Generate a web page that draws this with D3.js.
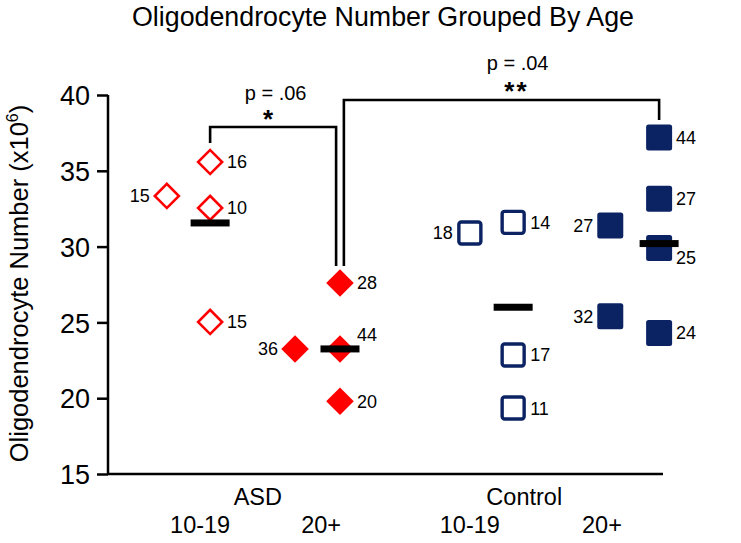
<!DOCTYPE html>
<html>
<head>
<meta charset="utf-8">
<script src="https://cdn.jsdelivr.net/npm/d3@7/dist/d3.min.js"></script>
<style>
  html, body { margin: 0; padding: 0; background: #fff; }
  svg { display: block; font-family: "Liberation Sans", Arial, Helvetica, sans-serif; }
</style>
</head>
<body>
<svg id="chart" width="741" height="543"></svg>
<script>
// ---------- data ----------
const title = "Oligodendrocyte Number Grouped By Age";
const yTicks = [15, 20, 25, 30, 35, 40];
const groupLabels = ["ASD", "Control"];
const groupCenters = [2.7, 7.5];
const ageLabels = ["10-19", "20+", "10-19", "20+"];
const ageLabelPos = [1.66, 3.84, 6.52, 8.9];

// each point: horizontal position (category units), value, subject age label
const asdYoungX = [1.84, 1.06, 1.84, 1.84];
const asdYoungV = [35.58, 33.34, 32.55, 25.03];
const asdYoungN = ["16", "15", "10", "15"];
const asdYoungSide = ["r", "l", "r", "r"];

const asdOldX = [4.18, 3.37, 4.18, 4.18];
const asdOldV = [27.6, 23.25, 23.25, 19.8];
const asdOldN = ["28", "36", "44", "20"];
const asdOldSide = ["r", "l", "ru", "r"];

const ctlYoungX = [6.52, 7.30, 7.30, 7.30];
const ctlYoungV = [30.9, 31.6, 22.85, 19.35];
const ctlYoungN = ["18", "14", "17", "11"];
const ctlYoungSide = ["l", "r", "r", "r"];

const ctlOldX = [9.05, 9.05, 9.93, 9.93, 9.93, 9.93];
const ctlOldV = [31.4, 25.4, 37.2, 33.15, 29.9, 24.3];
const ctlOldN = ["27", "32", "44", "27", "25", "24"];
const ctlOldSide = ["l", "l", "r", "r", "rd", "r"];

const meanX = [1.84, 4.18, 7.30, 9.93];
const meanV = [31.56, 23.25, 26.0, 30.2];

// significance brackets
const bracketX1 = [1.84, 4.25];
const bracketX2 = [4.11, 9.93];
const bracketTop = [37.89, 39.67];
const bracketLeg1 = [36.83, 28.72];
const bracketLeg2 = [28.72, 38.35];
const bracketP = ["p = .06", "p = .04"];
const bracketStars = ["*", "**"];

// ---------- layout ----------
const svg = d3.select("#chart");
const x = d3.scaleLinear().domain([0, 10]).range([108, 663]);
const y = d3.scaleLinear().domain([15, 40]).range([474, 95]);

const red = "#ff0000";
const navy = "#0b2363";

// title
svg.append("text")
  .attr("x", 383).attr("y", 26)
  .attr("text-anchor", "middle")
  .attr("font-size", 26.8)
  .text(title);

// y axis
const yAxis = svg.append("g")
  .attr("transform", `translate(${x(0)},0)`)
  .call(d3.axisLeft(y).tickValues(yTicks).tickSize(11).tickPadding(7).tickFormat(d3.format("d")));
yAxis.select(".domain").attr("stroke", "#000").attr("stroke-width", 2.5).attr("d", `M0,${y(15)}V${y(40)}`);
yAxis.selectAll(".tick line").attr("stroke", "#000").attr("stroke-width", 2.5);
yAxis.selectAll(".tick text").attr("font-size", 27).attr("font-family", "Liberation Sans, Arial, sans-serif").attr("fill", "#000").attr("dy", "0.36em");

// x axis line
svg.append("line")
  .attr("x1", x(0)).attr("x2", x(10))
  .attr("y1", y(15)).attr("y2", y(15))
  .attr("stroke", "#000").attr("stroke-width", 2.5);

// y label
const yl = svg.append("text")
  .attr("transform", `translate(28,${(y(15) + y(40)) / 2 - 1}) rotate(-90)`)
  .attr("text-anchor", "middle")
  .attr("font-size", 25.5);
yl.append("tspan").text("Oligodendrocyte Number (x10");
yl.append("tspan").attr("font-size", 16).attr("dy", -10).text("6");
yl.append("tspan").attr("dy", 10).text(")");

// x labels
svg.selectAll(".grp").data(groupLabels).enter().append("text")
  .attr("x", (d, i) => x(groupCenters[i])).attr("y", 505)
  .attr("text-anchor", "middle").attr("font-size", 23.5).text(d => d);
svg.selectAll(".age").data(ageLabels).enter().append("text")
  .attr("x", (d, i) => x(ageLabelPos[i])).attr("y", 533)
  .attr("text-anchor", "middle").attr("font-size", 23.5).text(d => d);

// brackets
bracketP.forEach((p, i) => {
  const path = d3.path();
  path.moveTo(x(bracketX1[i]), y(bracketLeg1[i]));
  path.lineTo(x(bracketX1[i]), y(bracketTop[i]));
  path.lineTo(x(bracketX2[i]), y(bracketTop[i]));
  path.lineTo(x(bracketX2[i]), y(bracketLeg2[i]));
  svg.append("path").attr("d", path.toString())
    .attr("fill", "none").attr("stroke", "#000").attr("stroke-width", 2.6);
});
// p-value texts and stars
const pTextX = [3.02, 7.38];
const pTextY = [39.7, 41.65];
const starX = [2.9, 7.36];
const starY = [38.84, 40.66];
bracketP.forEach((p, i) => {
  svg.append("text").attr("x", x(pTextX[i])).attr("y", y(pTextY[i]))
    .attr("text-anchor", "middle").attr("font-size", 20).text(p);
  svg.append("text").attr("x", x(starX[i])).attr("y", y(starY[i]))
    .attr("text-anchor", "middle").attr("font-size", 26).attr("font-weight", "bold")
    .attr("letter-spacing", 2)
    .attr("dy", "0.58em").text(bracketStars[i]);
});

// helpers
function pts(xs, vs, ns, sides) {
  return xs.map((d, i) => ({ x: xs[i], v: vs[i], n: ns[i], side: sides[i] }));
}
const diamondOpen = d3.symbol().type(d3.symbolSquare).size(17 * 17)();
const diamondFilled = d3.symbol().type(d3.symbolSquare).size(19.5 * 19.5)();

function drawDiamonds(data, filled) {
  svg.append("g").selectAll("path").data(data).enter().append("path")
    .attr("d", filled ? diamondFilled : diamondOpen)
    .attr("transform", d => `translate(${x(d.x)},${y(d.v)}) rotate(45)`)
    .attr("fill", filled ? red : "#fff")
    .attr("stroke", filled ? "none" : red)
    .attr("stroke-width", filled ? 0 : 2.6);
}
function drawSquares(data, filled) {
  const s = filled ? 26 : 22;
  svg.append("g").selectAll("rect").data(data).enter().append("rect")
    .attr("x", d => x(d.x) - s / 2).attr("y", d => y(d.v) - s / 2)
    .attr("width", s).attr("height", s).attr("rx", 2.5)
    .attr("fill", filled ? navy : "#fff")
    .attr("stroke", filled ? "none" : navy)
    .attr("stroke-width", filled ? 0 : 3.4);
}
function drawLabels(data) {
  svg.append("g").selectAll("text").data(data).enter().append("text")
    .attr("x", d => x(d.x) + (d.side[0] === "l" ? -17 : 17))
    .attr("y", d => y(d.v) + (d.side === "ru" ? -14 : d.side === "rd" ? 9 : 0))
    .attr("dy", "0.36em")
    .attr("text-anchor", d => d.side[0] === "l" ? "end" : "start")
    .attr("font-size", 18)
    .text(d => d.n);
}

const asdY = pts(asdYoungX, asdYoungV, asdYoungN, asdYoungSide);
const asdO = pts(asdOldX, asdOldV, asdOldN, asdOldSide);
const ctlY = pts(ctlYoungX, ctlYoungV, ctlYoungN, ctlYoungSide);
const ctlO = pts(ctlOldX, ctlOldV, ctlOldN, ctlOldSide);

drawDiamonds(asdY, false);
drawDiamonds(asdO, true);
drawSquares(ctlY, false);
drawSquares(ctlO, true);

// mean bars
svg.append("g").selectAll("rect").data(meanV).enter().append("rect")
  .attr("x", (d, i) => x(meanX[i]) - 19.5)
  .attr("y", d => y(d) - 3.5)
  .attr("width", 39).attr("height", 7)
  .attr("fill", "#000");

drawLabels(asdY);
drawLabels(asdO);
drawLabels(ctlY);
drawLabels(ctlO);
</script>
</body>
</html>
